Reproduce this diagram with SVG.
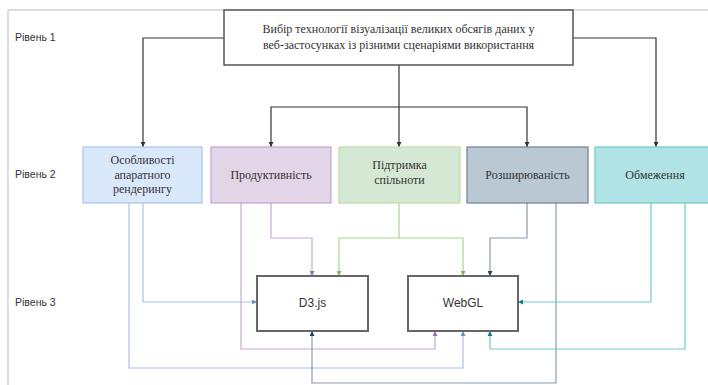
<svg xmlns="http://www.w3.org/2000/svg" width="708" height="385" viewBox="0 0 708 385">
<defs>
<style>
.lvl{font-family:"Liberation Sans",Arial,sans-serif;font-size:10.5px;fill:#333}
.t{font-family:"Liberation Serif","Times New Roman",serif;font-size:12px;fill:#333;text-anchor:middle}
.s{font-family:"Liberation Sans",Arial,sans-serif;font-size:12px;fill:#333;text-anchor:middle}
.c{fill:none;stroke-width:1.2}
.k{stroke:#333}
.b{stroke:#a9c1e8}
.p{stroke:#c8a8d6}
.g{stroke:#a9d68f}
.n{stroke:#8a9cae}
.q{stroke:#74c8cc}
</style>
<marker id="ak" viewBox="0 0 6 6" refX="6" refY="3" markerWidth="5" markerHeight="5" markerUnits="userSpaceOnUse" orient="auto"><path d="M0,0 L6,3 L0,6 Z" fill="#333"/></marker>
<marker id="ab" viewBox="0 0 6 6" refX="6" refY="3" markerWidth="5" markerHeight="5" markerUnits="userSpaceOnUse" orient="auto"><path d="M0,0 L6,3 L0,6 Z" fill="#6c8ebf"/></marker>
<marker id="ap" viewBox="0 0 6 6" refX="6" refY="3" markerWidth="5" markerHeight="5" markerUnits="userSpaceOnUse" orient="auto"><path d="M0,0 L6,3 L0,6 Z" fill="#9673a6"/></marker>
<marker id="ag" viewBox="0 0 6 6" refX="6" refY="3" markerWidth="5" markerHeight="5" markerUnits="userSpaceOnUse" orient="auto"><path d="M0,0 L6,3 L0,6 Z" fill="#82b366"/></marker>
<marker id="an" viewBox="0 0 6 6" refX="6" refY="3" markerWidth="5" markerHeight="5" markerUnits="userSpaceOnUse" orient="auto"><path d="M0,0 L6,3 L0,6 Z" fill="#23445d"/></marker>
<marker id="aq" viewBox="0 0 6 6" refX="6" refY="3" markerWidth="5" markerHeight="5" markerUnits="userSpaceOnUse" orient="auto"><path d="M0,0 L6,3 L0,6 Z" fill="#0e8088"/></marker>
</defs>
<rect width="708" height="385" fill="#ffffff"/>
<g id="frame">
<path d="M8,385 V10 H708" fill="none" stroke="#d4d4d4" stroke-width="1.5"/>
<text class="lvl" x="15" y="41">Рівень 1</text>
<text class="lvl" x="15" y="178">Рівень 2</text>
<text class="lvl" x="15" y="306">Рівень 3</text>
</g>
<g id="connectors">
<path class="c k" d="M224,38 H143 V147" marker-end="url(#ak)"/>
<path class="c k" d="M573,38 H656 V147" marker-end="url(#ak)"/>
<path class="c k" d="M399,65 V147" marker-end="url(#ak)"/>
<path class="c k" d="M399,107 H271 V147" marker-end="url(#ak)"/>
<path class="c k" d="M399,107 H527 V147" marker-end="url(#ak)"/>
<path class="c b" d="M143,203 V302 H257" marker-end="url(#ab)"/>
<path class="c b" d="M129,203 V368 H463 V331" marker-end="url(#ab)"/>
<path class="c p" d="M271,203 V238 H312 V276" marker-end="url(#ap)"/>
<path class="c p" d="M241,203 V349 H435 V331" marker-end="url(#ap)"/>
<path class="c g" d="M399,203 V238 H339 V276" marker-end="url(#ag)"/>
<path class="c g" d="M399,238 H463 V276" marker-end="url(#ag)"/>
<path class="c n" d="M527,203 V238 H490 V276" marker-end="url(#an)"/>
<path class="c n" d="M556,203 V383 H312 V331" marker-end="url(#an)"/>
<path class="c q" d="M651,203 V302 H518" marker-end="url(#aq)"/>
<path class="c q" d="M685,203 V349 H490 V331" marker-end="url(#aq)"/>
</g>
<g id="top">
<rect x="224" y="10" width="349" height="55" fill="#fff" stroke="#555" stroke-width="1.5"/>
<text class="t" x="398.5" y="33">Вибір технології візуалізації великих обсягів даних у</text>
<text class="t" x="398.5" y="48.5">веб-застосунках із різними сценаріями використання</text>
</g>
<g id="n1">
<rect x="83" y="147" width="119" height="56" fill="#dae8fc" stroke="#a9c4eb" stroke-width="1.2"/>
<text class="t" x="142.5" y="164">Особливості</text>
<text class="t" x="142.5" y="178.5">апаратного</text>
<text class="t" x="142.5" y="193">рендерингу</text>
</g>
<g id="n2">
<rect x="211" y="147" width="120" height="56" fill="#e1d5e7" stroke="#c3a3d3" stroke-width="1.2"/>
<text class="t" x="271" y="179">Продуктивність</text>
</g>
<g id="n3">
<rect x="339" y="147" width="121" height="56" fill="#d5e8d4" stroke="#b9e0a5" stroke-width="1.2"/>
<text class="t" x="399.5" y="169">Підтримка</text>
<text class="t" x="399.5" y="184">спільноти</text>
</g>
<g id="n4">
<rect x="467" y="147" width="121" height="56" fill="#bac8d3" stroke="#6d8296" stroke-width="1.2"/>
<text class="t" x="527.5" y="179">Розширюваність</text>
</g>
<g id="n5">
<rect x="595" y="147" width="121" height="56" fill="#b0e3e6" stroke="#70c7cc" stroke-width="1.2"/>
<text class="t" x="655" y="179">Обмеження</text>
</g>
<g id="d3">
<rect x="257" y="276" width="111" height="55" fill="#fff" stroke="#666" stroke-width="2"/>
<text class="s" x="312.5" y="307">D3.js</text>
</g>
<g id="webgl">
<rect x="408" y="276" width="110" height="55" fill="#fff" stroke="#666" stroke-width="2"/>
<text class="s" x="463" y="307">WebGL</text>
</g>
</svg>
